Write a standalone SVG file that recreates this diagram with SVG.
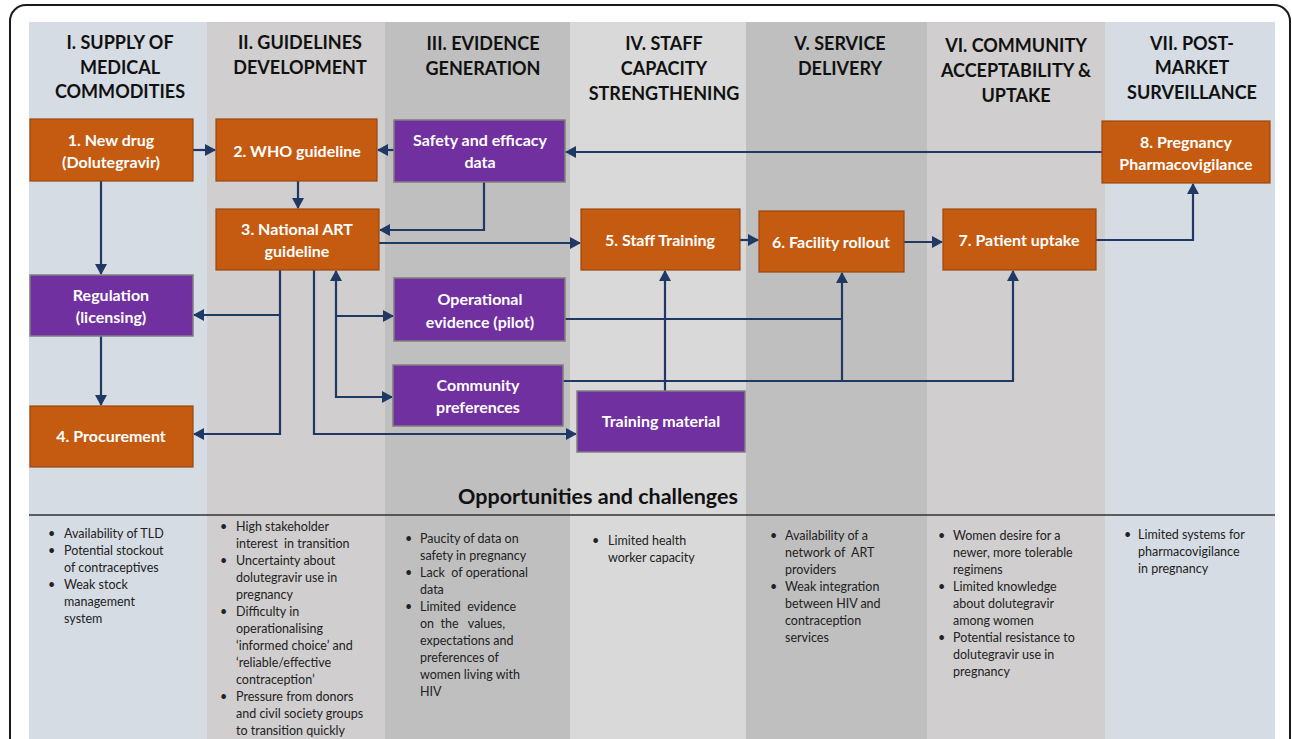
<svg xmlns="http://www.w3.org/2000/svg" width="1292" height="739" viewBox="0 0 1292 739">
<style>
.hd{font-family:Lato,"Liberation Sans",sans-serif;font-weight:700;font-size:18px;fill:#111;text-anchor:middle}
.bx{font-family:Lato,"Liberation Sans",sans-serif;font-weight:700;font-size:16px;fill:#fff;text-anchor:middle}
.or{fill:#c55a11;stroke:#9c460c;stroke-width:1.2}
.pu{fill:#7030a0;stroke:#7f7f7f;stroke-width:1.5}
.bt{font-family:Lato,"Liberation Sans",sans-serif;font-size:12.5px;fill:#222}
.cn{fill:none;stroke:#203864;stroke-width:2.2}
</style>
<defs>
<marker id="ah" markerUnits="userSpaceOnUse" markerWidth="12" markerHeight="12" refX="10" refY="6" orient="auto">
<path d="M0,0 L11,6 L0,12 z" fill="#203864"/>
</marker>
</defs>
<rect x="0" y="0" width="1292" height="739" fill="#fff"/>
<rect x="10" y="5" width="1280" height="800" rx="16" fill="#fff" stroke="#1a1a1a" stroke-width="2"/>
<g id="columns">
<rect x="29" y="22" width="178" height="717" fill="#d6dce4"/>
<rect x="207" y="22" width="178" height="717" fill="#d0cece"/>
<rect x="385" y="22" width="185" height="717" fill="#bfbfbf"/>
<rect x="570" y="22" width="176" height="717" fill="#d9d9d9"/>
<rect x="746" y="22" width="181" height="717" fill="#bfbfbf"/>
<rect x="927" y="22" width="178" height="717" fill="#d0cece"/>
<rect x="1105" y="22" width="170" height="717" fill="#d6dce4"/>
</g>
<g id="headers">
<text class="hd" x="120" y="49">I. SUPPLY OF</text>
<text class="hd" x="120" y="74">MEDICAL</text>
<text class="hd" x="120" y="98">COMMODITIES</text>
<text class="hd" x="300" y="49">II. GUIDELINES</text>
<text class="hd" x="300" y="74">DEVELOPMENT</text>
<text class="hd" x="483" y="50">III. EVIDENCE</text>
<text class="hd" x="483" y="75">GENERATION</text>
<text class="hd" x="664" y="50">IV. STAFF</text>
<text class="hd" x="664" y="75">CAPACITY</text>
<text class="hd" x="664" y="100">STRENGTHENING</text>
<text class="hd" x="840" y="50">V. SERVICE</text>
<text class="hd" x="840" y="75">DELIVERY</text>
<text class="hd" x="1016" y="52">VI. COMMUNITY</text>
<text class="hd" x="1016" y="77">ACCEPTABILITY &amp;</text>
<text class="hd" x="1016" y="102">UPTAKE</text>
<text class="hd" x="1192" y="50">VII. POST-</text>
<text class="hd" x="1192" y="74">MARKET</text>
<text class="hd" x="1192" y="99">SURVEILLANCE</text>
</g>
<g id="connectors">
<line class="cn" x1="193" y1="150" x2="215" y2="150" marker-end="url(#ah)"/>
<line class="cn" x1="394" y1="150" x2="378" y2="150" marker-end="url(#ah)"/>
<line class="cn" x1="1102" y1="152" x2="566" y2="152" marker-end="url(#ah)"/>
<line class="cn" x1="298" y1="181" x2="298" y2="208" marker-end="url(#ah)"/>
<polyline class="cn" points="484,182 484,230 380,230" marker-end="url(#ah)"/>
<line class="cn" x1="379" y1="243" x2="580" y2="243" marker-end="url(#ah)"/>
<line class="cn" x1="101" y1="181" x2="101" y2="274" marker-end="url(#ah)"/>
<line class="cn" x1="101" y1="336" x2="101" y2="405" marker-end="url(#ah)"/>
<polyline class="cn" points="280,270 280,434 194,434" marker-end="url(#ah)"/>
<line class="cn" x1="280" y1="315" x2="194" y2="315" marker-end="url(#ah)"/>
<polyline class="cn" points="314,270 314,434 576,434" marker-end="url(#ah)"/>
<line class="cn" x1="336" y1="398" x2="336" y2="271" marker-end="url(#ah)"/>
<line class="cn" x1="336" y1="316" x2="393" y2="316" marker-end="url(#ah)"/>
<line class="cn" x1="336" y1="397" x2="392" y2="397" marker-end="url(#ah)"/>
<line class="cn" x1="565" y1="319" x2="842" y2="319"/>
<polyline class="cn" points="563,381 1013,381 1013,271" marker-end="url(#ah)"/>
<line class="cn" x1="842" y1="381" x2="842" y2="273" marker-end="url(#ah)"/>
<line class="cn" x1="665" y1="391" x2="665" y2="271" marker-end="url(#ah)"/>
<line class="cn" x1="740" y1="240" x2="758" y2="240" marker-end="url(#ah)"/>
<line class="cn" x1="904" y1="242" x2="942" y2="242" marker-end="url(#ah)"/>
<polyline class="cn" points="1096,240 1193,240 1193,184" marker-end="url(#ah)"/>
</g>
<g id="n1"><rect class="or" x="30" y="119" width="163" height="62"/><text class="bx" x="111" y="146">1. New drug</text><text class="bx" x="111" y="168">(Dolutegravir)</text></g>
<g id="n2"><rect class="or" x="216" y="119" width="161" height="62"/><text class="bx" x="297" y="157">2. WHO guideline</text></g>
<g id="nsafety"><rect class="pu" x="394" y="120" width="171" height="62"/><text class="bx" x="480" y="146">Safety and efficacy</text><text class="bx" x="480" y="168">data</text></g>
<g id="n8"><rect class="or" x="1102" y="121" width="168" height="62"/><text class="bx" x="1186" y="148">8. Pregnancy</text><text class="bx" x="1186" y="170">Pharmacovigilance</text></g>
<g id="n3"><rect class="or" x="216" y="209" width="163" height="61"/><text class="bx" x="297" y="235">3. National ART</text><text class="bx" x="297" y="257">guideline</text></g>
<g id="nreg"><rect class="pu" x="30" y="275" width="163" height="61"/><text class="bx" x="111" y="301">Regulation</text><text class="bx" x="111" y="323">(licensing)</text></g>
<g id="n4"><rect class="or" x="30" y="406" width="163" height="61"/><text class="bx" x="111" y="442">4. Procurement</text></g>
<g id="nop"><rect class="pu" x="394" y="278" width="171" height="63"/><text class="bx" x="480" y="305">Operational</text><text class="bx" x="480" y="328">evidence (pilot)</text></g>
<g id="ncp"><rect class="pu" x="393" y="365" width="170" height="61"/><text class="bx" x="478" y="391">Community</text><text class="bx" x="478" y="413">preferences</text></g>
<g id="ntm"><rect class="pu" x="577" y="391" width="168" height="61"/><text class="bx" x="661" y="427">Training material</text></g>
<g id="n5"><rect class="or" x="581" y="209" width="159" height="61"/><text class="bx" x="660" y="246">5. Staff Training</text></g>
<g id="n6"><rect class="or" x="759" y="211" width="145" height="61"/><text class="bx" x="831" y="248">6. Facility rollout</text></g>
<g id="n7"><rect class="or" x="943" y="209" width="153" height="61"/><text class="bx" x="1019" y="246">7. Patient uptake</text></g>
<g id="oc">
<text x="598" y="504" font-family="Lato,'Liberation Sans',sans-serif" font-weight="700" font-size="21.5" fill="#111" text-anchor="middle">Opportunities and challenges</text>
<line x1="29" y1="515" x2="1275" y2="515" stroke="#333" stroke-width="1.5"/>
</g>
<g id="bullets" class="bt">
<text x="48" y="538">•</text><text x="64" y="538">Availability of TLD</text>
<text x="48" y="555">•</text><text x="64" y="555">Potential stockout</text>
<text x="64" y="572">of contraceptives</text>
<text x="48" y="589">•</text><text x="64" y="589">Weak stock</text>
<text x="64" y="606">management</text>
<text x="64" y="623">system</text>

<text x="220" y="531">•</text><text x="236" y="531">High stakeholder</text>
<text x="236" y="548" xml:space="preserve">interest  in transition</text>
<text x="220" y="565">•</text><text x="236" y="565">Uncertainty about</text>
<text x="236" y="582">dolutegravir use in</text>
<text x="236" y="599">pregnancy</text>
<text x="220" y="616">•</text><text x="236" y="616">Difficulty in</text>
<text x="236" y="633">operationalising</text>
<text x="236" y="650">‘informed choice’ and</text>
<text x="236" y="667">‘reliable/effective</text>
<text x="236" y="684">contraception’</text>
<text x="220" y="701">•</text><text x="236" y="701">Pressure from donors</text>
<text x="236" y="718">and civil society groups</text>
<text x="236" y="735">to transition quickly</text>

<text x="405" y="543">•</text><text x="420" y="543">Paucity of data on</text>
<text x="420" y="560">safety in pregnancy</text>
<text x="405" y="577">•</text><text x="420" y="577" xml:space="preserve">Lack  of operational</text>
<text x="420" y="594">data</text>
<text x="405" y="611">•</text><text x="420" y="611" xml:space="preserve">Limited  evidence</text>
<text x="420" y="628" xml:space="preserve">on  the   values,</text>
<text x="420" y="645">expectations and</text>
<text x="420" y="662">preferences of</text>
<text x="420" y="679">women living with</text>
<text x="420" y="696">HIV</text>

<text x="592" y="545">•</text><text x="608" y="545">Limited health</text>
<text x="608" y="562">worker capacity</text>

<text x="770" y="540">•</text><text x="785" y="540">Availability of a</text>
<text x="785" y="557" xml:space="preserve">network of  ART</text>
<text x="785" y="574">providers</text>
<text x="770" y="591">•</text><text x="785" y="591">Weak integration</text>
<text x="785" y="608">between HIV and</text>
<text x="785" y="625">contraception</text>
<text x="785" y="642">services</text>

<text x="938" y="540">•</text><text x="953" y="540">Women desire for a</text>
<text x="953" y="557">newer, more tolerable</text>
<text x="953" y="574">regimens</text>
<text x="938" y="591">•</text><text x="953" y="591">Limited knowledge</text>
<text x="953" y="608">about dolutegravir</text>
<text x="953" y="625">among women</text>
<text x="938" y="642">•</text><text x="953" y="642">Potential resistance to</text>
<text x="953" y="659">dolutegravir use in</text>
<text x="953" y="676">pregnancy</text>

<text x="1124" y="539">•</text><text x="1138" y="539">Limited systems for</text>
<text x="1138" y="556">pharmacovigilance</text>
<text x="1138" y="573">in pregnancy</text>
</g>
</svg>
